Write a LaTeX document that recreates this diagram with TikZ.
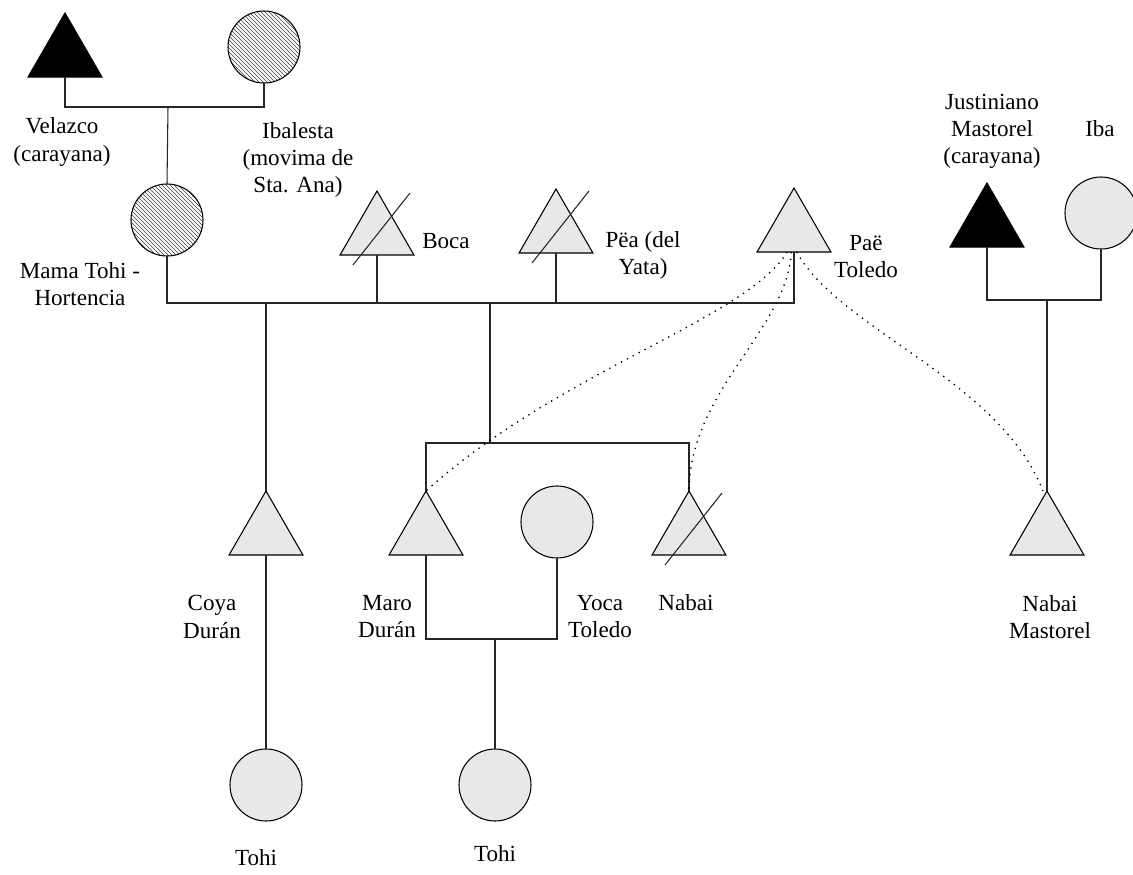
\documentclass[tikz,border=0pt]{standalone}
\usepackage{fontspec}
\setmainfont{Liberation Serif}
\usetikzlibrary{shapes.geometric,patterns}
\definecolor{shade}{RGB}{232,232,232}
\tikzset{
  person/.style={draw=black, line width=0.8pt},
  male/.style={person, regular polygon, regular polygon sides=3, minimum size=64pt,
    inner sep=0pt, outer sep=0pt, fill=shade, anchor=side 2},
  female/.style={person, circle, minimum size=54pt, inner sep=0pt, outer sep=0pt, fill=shade},
  dark/.style={fill=black},
  hatched/.style={fill=white, pattern=north west lines, pattern color=black!75},
  kin/.style={line width=0.8pt, draw=black!85},
  tie/.style={line width=1pt, dash pattern=on 1pt off 4pt, draw=black},
  lbl/.style={align=center, inner sep=0pt, font=\fontsize{17.3}{20.3}\selectfont}
}
\begin{document}
\begin{tikzpicture}[x=0.75pt, y=-0.75pt]
\useasboundingbox (0,0) rectangle (1133,875);

% ---- grandparents ----
\node[male, dark] (velazco) at (65,77) {};
\node[female, hatched, draw=black] (ibalesta) at (264,47) {};
\node[lbl] (velazcoL) at (62,142) {Velazco\\(carayana)};
\node[lbl] (ibalestaL) at (298,160) {Ibalesta\\(movima de\\Sta. Ana)};

% ---- second generation ----
\node[female, hatched, draw=black] (mama) at (167,220) {};
\node[lbl] (mamaL) at (80,284) {Mama Tohi -\\Hortencia};
\node[male] (boca) at (377,255) {};
\node[lbl] (bocaL) at (446,241) {Boca};
\node[male] (pea) at (556,253) {};
\node[lbl] (peaL) at (643,255) {Pëa (del\\Yata)};
\node[male] (pae) at (794,252) {};
\node[lbl] (paeL) at (866,257) {Paë\\Toledo};

% ---- Mastorel family ----
\node[male, dark] (just) at (987,247) {};
\node[female] (iba) at (1101,213) {};
\node[lbl] (justL) at (992,131) {Justiniano\\Mastorel\\(carayana)};
\node[lbl] (ibaL) at (1100,129) {Iba};

% ---- third generation ----
\node[male] (coya) at (266,555) {};
\node[lbl] (coyaL) at (212,617) {Coya\\Durán};
\node[male] (maro) at (426,555) {};
\node[lbl] (maroL) at (387,617) {Maro\\Durán};
\node[female] (yoca) at (557,522) {};
\node[lbl] (yocaL) at (600,617) {Yoca\\Toledo};
\node[male] (nabai) at (689,555) {};
\node[lbl] (nabaiL) at (686,603) {Nabai};
\node[male] (nabaim) at (1047,555) {};
\node[lbl] (nabaimL) at (1050,617) {Nabai\\Mastorel};

% ---- fourth generation ----
\node[female] (tohiA) at (266,785) {};
\node[lbl] (tohiAL) at (256,858) {Tohi};
\node[female] (tohiB) at (495,785) {};
\node[lbl] (tohiBL) at (495,854) {Tohi};

% ---- deceased marks ----
\foreach \n in {boca,pea,nabai}
  \draw[kin] ([shift={(-24,10)}]\n.side 2) -- ([shift={(33,-62)}]\n.side 2);

% ---- union and descent lines ----
\coordinate (u1) at (168,107);
\draw[kin] (velazco.side 2) |- (u1) -| (ibalesta.south);
\draw[kin] (u1) -- (mama.north);

\coordinate (barL) at (167,303);
\coordinate (barR) at (794,303);
\draw[kin] (mama.south) -- (barL) -- (barR) -- (pae.side 2);
\draw[kin] (boca.side 2) -- (boca.side 2 |- barL);
\draw[kin] (pea.side 2) -- (pea.side 2 |- barL);
\draw[kin] (coya.corner 1 |- barL) -- (coya.corner 1);

\coordinate (sib) at (490,303);
\coordinate (sibB) at (490,443);
\draw[kin] (sib) -- (sibB);
\draw[kin] (maro.corner 1) -- (maro.corner 1 |- sibB) -- (nabai.corner 1 |- sibB) -- (nabai.corner 1);

\coordinate (u2) at (495,639);
\draw[kin] (maro.side 2) |- (u2) -| (yoca.south);
\draw[kin] (u2) -- (tohiB.north);
\draw[kin] (coya.side 2) -- (tohiA.north);

\coordinate (u3) at (1047,300);
\draw[kin] (just.side 2) |- (u3) -| (iba.south);
\draw[kin] (u3) -- (nabaim.corner 1);

% ---- dotted ties from Paë ----
\draw[tie] ([xshift=-5]pae.side 2) .. controls (745,320) and (560,370) .. (maro.corner 1);
\draw[tie] ([xshift=-2]pae.side 2) .. controls (787,330) and (690,390) .. (nabai.corner 1);
\draw[tie] ([xshift=2]pae.side 2) .. controls (840,330) and (1000,380) .. ([xshift=-3]nabaim.corner 1);
\end{tikzpicture}
\end{document}
